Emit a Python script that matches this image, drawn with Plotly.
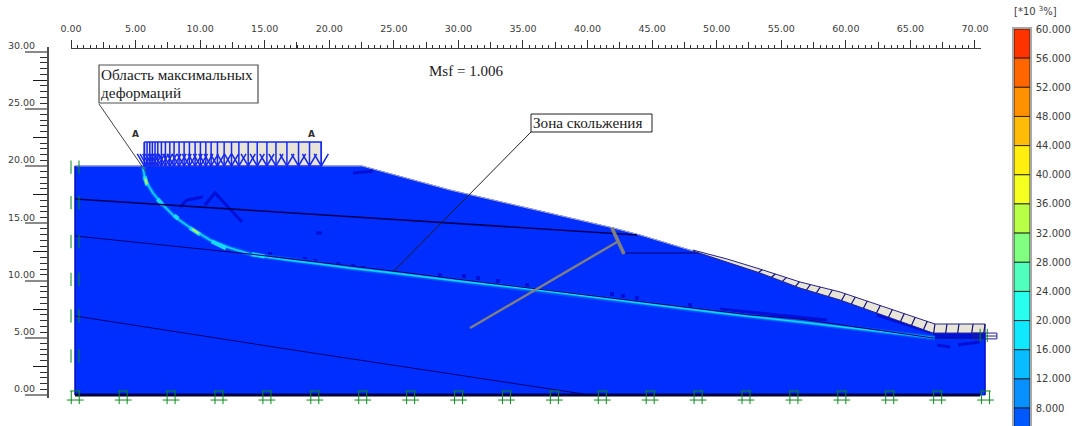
import plotly.graph_objects as go

# ---------- scale / tick values ----------
x_major = [0, 5, 10, 15, 20, 25, 30, 35, 40, 45, 50, 55, 60, 65, 70]
y_major = [0, 5, 10, 15, 20, 25, 30]
x_mid = [2.5 + 5 * i for i in range(14)]
y_mid = [2.5 + 5 * i for i in range(6)]
x_minor = [0.5 * i for i in range(141)]
y_minor = [0.5 * i for i in range(61)]
x_labels = ["%.2f" % v for v in x_major]
y_labels = ["%.2f" % v for v in y_major]

# ---------- slope geometry ----------
soil_x = [0.31, 0.31, 22.53, 29.35, 41.97, 44.06, 48.16, 53.35, 56.45, 59.55, 66.75, 70.78, 70.78]
soil_y = [0, 20.0, 20.0, 17.9, 14.59, 13.97, 12.58, 10.66, 9.34, 8.30, 5.41, 5.41, 0]
block_top_x = [48.16, 50.8, 53.35, 56.45, 59.55, 66.75, 66.9, 70.78, 70.78]
block_top_y = [12.66, 11.88, 11.0, 9.87, 9.0, 6.29, 6.2, 6.2, 5.41]
block_base_x = [66.75, 59.55, 56.45, 53.35, 48.16]
block_base_y = [5.41, 8.30, 9.34, 10.66, 12.58]
sep_slope_x = [53.35, 54.36, 55.21, 56.22, 57.07, 57.84, 58.77, 59.78, 60.55, 61.48, 62.49, 63.42, 64.35, 65.2, 66.13]
sep_bench_x = [66.9, 67.83, 68.76, 69.85, 70.78]
bench_top = 6.2
bench_base = 5.41

slip_x = [5.58, 5.73, 6.35, 7.12, 8.05, 9.37, 10.76, 12.31, 14.09, 16.73, 19.28, 21.6, 24.93, 29.35, 36.08, 40.96, 50.26, 56.45, 66.29, 66.9]
slip_y = [19.91, 18.78, 17.64, 16.59, 15.55, 14.5, 13.54, 12.84, 12.23, 11.79, 11.44, 11.09, 10.66, 10.04, 9.17, 8.47, 7.16, 6.38, 5.07, 4.98]

layer1_x = [0.31, 21.6, 29.35, 43.83]
layer1_y = [17.12, 15.55, 15.02, 13.97]
layer2_x = [0.31, 13.86, 24.93, 31.67, 52.58, 56.45, 66.75]
layer2_y = [13.89, 12.31, 10.83, 9.87, 6.99, 6.64, 4.98]
layer3_x = [0.31, 17.73, 40.19]
layer3_y = [6.9, 3.84, 0]
thin_x = [42.9, 48.71, None, 66.75, 70.78]
thin_y = [12.4, 12.4, None, 4.98, 4.98]
base_x = [0.31, 70.4]
base_y = [0, 0]

# ---------- strain patches ----------
patch_x = [10.38, 11.15, 13.24, None, 8.44, 8.98, 10.22, None, 18.97, 19.44, None, 21.84, 23.39, None,
           50.26, 58.54, None, 62.41, 66.52, None, 67.06, 68.07, None, 68.68, 70.39, None, 66.75, 70.78]
patch_y = [16.59, 17.64, 15.11, None, 16.42, 17.03, 17.29, None, 14.15, 14.15, None, 19.39, 19.56, None,
           7.51, 6.55, None, 6.99, 5.5, None, 4.37, 4.19, None, 4.37, 4.63, None, 5.2, 5.2]
bump_x = [15.41, 18.12, 18.89, 20.68, 21.84, 22.61, 28.57, 30.43, 31.52, 33.06, 35.31, 41.89, 42.74, 43.83, 47.93]
bump_y = [12.31, 11.88, 11.7, 11.44, 11.27, 11.09, 10.48, 10.39, 10.22, 9.96, 9.61, 8.82, 8.65, 8.47, 7.86]
hot_x = [5.7, 5.9, None, 6.7, 7.1, None, 8.0, 8.3, None, 9.2, 10.0, None, 10.9, 12.0, None, 14.0, 15.0]
hot_y = [19.1, 18.3, None, 17.1, 16.6, None, 15.7, 15.4, None, 14.6, 14.0, None, 13.4, 12.8, None, 12.3, 12.1]
yellow_x = [5.75, 5.88, None, 9.4, 9.9]
yellow_y = [18.9, 18.4, None, 14.5, 14.1]

# ---------- load ----------
load_x = [5.68, 5.89, 6.10, 6.30, 6.51, 6.72, 7.00, 7.31, 7.65, 7.98, 8.37, 8.76, 9.17, 9.61, 10.02,
          10.44, 10.85, 11.34, 11.86, 12.43, 13.0, 13.72, 14.42, 15.17, 15.87, 16.72, 17.62, 18.47, 19.38]
load_top = 22.1
load_base = 20.0
head_top = 21.05
head_half = 0.55

# ---------- supports ----------
pin_x = [0.33, 4.04, 7.75, 11.46, 15.17, 18.88, 22.59, 26.3, 30.01, 33.72, 37.43, 41.14, 44.85, 48.56,
         52.27, 55.98, 59.69, 63.4, 67.11, 70.82]
left_pin_y = [19.9, 16.8, 13.4, 10.1, 6.9, 3.4]
right_pin_y = [5.2]

# ---------- callouts ----------
grey_long_x = [30.9, 42.28]
grey_long_y = [5.85, 13.36]
grey_short_x = [41.89, 42.82]
grey_short_y = [14.59, 12.31]
lead1_x = [2.17, 5.81]
lead1_y = [25.41, 19.48]
lead2_x = [35.62, 24.93]
lead2_y = [22.97, 10.74]
anchor_x = [69.85, 71.7, 71.7, 69.85, 69.85, None, 69.85, 71.7]
anchor_y = [5.41, 5.41, 4.9, 4.9, 5.41, None, 5.15, 5.15]

# ---------- colour scale ----------
band_low = [56, 52, 48, 44, 40, 36, 32, 28, 24, 20, 16, 12, 8, 4]
band_size = [4] * 14
band_colors = ["#FF3300", "#FF6600", "#FF9000", "#FFBB08", "#FFEE10", "#F5FF20", "#B8FF48",
               "#80FF80", "#50FFBB", "#28FFEE", "#10E8FF", "#08BCFF", "#0890FF", "#0058FF"]
cb_ticks = [60, 56, 52, 48, 44, 40, 36, 32, 28, 24, 20, 16, 12, 8]
cb_labels = ["%.3f" % v for v in cb_ticks]

SOIL = "#002EFF"
DARK = "#0010D8"
BEIGE = "#E8E4D8"
LOAD = "#1428F0"
GREEN = "#0A8A1E"
TXT = "#3C3C3C"
FONT = "DejaVu Sans"
SERIF = "Liberation Serif"


def line(x, y, color, width, xa="x", ya="y"):
    return go.Scatter(x=x, y=y, mode="lines", xaxis=xa, yaxis=ya,
                      line=dict(color=color, width=width, shape="linear"),
                      hoverinfo="skip", showlegend=False, connectgaps=False)


fig = go.Figure()

# soil body
fig.add_trace(go.Scatter(x=soil_x + soil_x[:1], y=soil_y + soil_y[:1], mode="lines", fill="toself",
                         fillcolor=SOIL, line=dict(color=SOIL, width=1),
                         hoverinfo="skip", showlegend=False))
fig.add_trace(line(soil_x[1:7], soil_y[1:7], "#A8A8C8", 1))
fig.add_trace(line(soil_x[:2], soil_y[:2], "#000090", 1))
fig.add_trace(line(soil_x[-2:], soil_y[-2:], "#0000B0", 1))
# strain patches
fig.add_trace(line(patch_x, patch_y, DARK, 3.2))
fig.add_trace(go.Scatter(x=bump_x, y=bump_y, mode="markers", hoverinfo="skip", showlegend=False,
                         marker=dict(symbol="square", size=4, color=DARK)))
# slip band
fig.add_trace(line(slip_x, slip_y, "#0A50F0", 5))
fig.add_trace(line(slip_x, slip_y, "#0C9CFF", 2.6))
fig.add_trace(line(hot_x, hot_y, "#18D8FF", 4))
fig.add_trace(line(slip_x, slip_y, "#10E4FF", 1))
fig.add_trace(line(yellow_x, yellow_y, "#C8F040", 2))

# soil layers
fig.add_trace(line(layer1_x, layer1_y, "#000058", 1.6))
fig.add_trace(line(layer2_x, layer2_y, "#000070", 1))
fig.add_trace(line(layer3_x, layer3_y, "#000070", 1))
fig.add_trace(line(thin_x, thin_y, "#000070", 1))
fig.add_trace(line(base_x, base_y, "#000040", 3))

# slope facing blocks
fig.add_trace(go.Scatter(x=block_top_x + block_base_x, y=block_top_y + block_base_y, mode="lines", fill="toself",
                         fillcolor=BEIGE, line=dict(color="#22228C", width=1),
                         hoverinfo="skip", showlegend=False))
sep_x, sep_y = [], []
top_pts = list(zip(block_top_x[:6], block_top_y[:6]))
base_pts = sorted(zip(block_base_x, block_base_y))


def interp(pts, x):
    for (x0, y0), (x1, y1) in zip(pts[:-1], pts[1:]):
        if x0 <= x <= x1:
            return y0 + (y1 - y0) * (x - x0) / (x1 - x0)
    return pts[-1][1]


for sx in sep_slope_x:
    sep_x += [sx + 0.18, sx - 0.12, None]
    sep_y += [interp(top_pts, sx + 0.18), interp(base_pts, sx - 0.12), None]
for sx in sep_bench_x:
    sep_x += [sx, sx - 0.1, None]
    sep_y += [bench_top, bench_base, None]
fig.add_trace(line(sep_x, sep_y, "#101070", 1.2))
fig.add_trace(line(anchor_x, anchor_y, "#20209C", 1))

# surcharge load
fig.add_trace(go.Scatter(x=[load_x[0], load_x[-1], load_x[-1], load_x[0], load_x[0]],
                         y=[load_top, load_top, load_base, load_base, load_top],
                         mode="lines", fill="toself", fillcolor=BEIGE,
                         line=dict(color=LOAD, width=1.5), hoverinfo="skip", showlegend=False))
lx, ly = [], []
for v in load_x:
    lx += [v, v, None, v - head_half, v, v + head_half, None]
    ly += [load_top, load_base, None, head_top, load_base, head_top, None]
fig.add_trace(line(lx, ly, LOAD, 1.5))

# supports
px, py = [], []
for v in pin_x:
    for d in (-0.31, 0.31):
        px += [v + d, v + d, None]
        py += [0.35, -0.8, None]
    px += [v - 0.4, v + 0.4, None, v - 0.65, v + 0.65, None]
    py += [0.35, 0.35, None, -0.44, -0.44, None]
for c in left_pin_y:
    for d in (0.0, 0.62):
        px += [d, d, None]
        py += [c - 0.58, c + 0.58, None]
for c in right_pin_y:
    for d in (70.4, 70.95):
        px += [d, d, None]
        py += [c - 0.58, c + 0.58, None]
fig.add_trace(line(px, py, GREEN, 1))

# callout lines
fig.add_trace(line(grey_long_x, grey_long_y, "#808080", 2.4))
fig.add_trace(line(grey_short_x, grey_short_y, "#808080", 3.6))
fig.add_trace(line(lead1_x, lead1_y, "#404040", 1))
fig.add_trace(line(lead2_x, lead2_y, "#202020", 1))

# second subplot: axis rulers with the mid-length ticks, limited to the ruler extent
fig.add_trace(go.Scatter(x=[None], y=[None], xaxis="x2", yaxis="y2", hoverinfo="skip", showlegend=False))

# colour scale
fig.add_trace(go.Bar(x=[0] * len(band_low), y=band_size, base=band_low, xaxis="x3", yaxis="y3", width=1,
                     marker=dict(color=band_colors, line=dict(color="#101010", width=0.8)),
                     hoverinfo="skip", showlegend=False))

FULL_X = [-71 / 12.914, (1075 - 71) / 12.914]
FULL_Y = [-31 / 11.45, 395 / 11.45]
fig.update_layout(
    width=1075, height=426, margin=dict(l=0, r=0, t=0, b=0, pad=0, autoexpand=False),
    paper_bgcolor="white", plot_bgcolor="rgba(0,0,0,0)", font=dict(family=FONT, size=9.5, color=TXT),
    showlegend=False, barmode="overlay",
    xaxis=dict(domain=[0, 1], range=FULL_X, side="top", anchor="free", position=378 / 426, automargin=False,
               tickmode="array", tickvals=x_major, ticktext=x_labels, ticks="outside", ticklen=8,
               tickcolor="#303030", tickwidth=1, showgrid=False, zeroline=False, showline=False,
               ticklabelstandoff=4, tickfont=dict(size=9.5, color=TXT),
               minor=dict(tickmode="array", tickvals=x_minor, ticks="outside", ticklen=3,
                          tickcolor="#303030", tickwidth=1, showgrid=False)),
    yaxis=dict(domain=[0, 1], range=FULL_Y, anchor="free", position=48 / 1075, automargin=False,
               tickmode="array", tickvals=y_major, ticktext=y_labels, ticks="outside", ticklen=23,
               tickcolor="#8A8A8A", tickwidth=2, showgrid=False, zeroline=False, showline=False,
               ticklabelstandoff=-12, ticklabelshift=-6, tickfont=dict(size=9.5, color=TXT),
               minor=dict(tickmode="array", tickvals=y_minor, ticks="outside", ticklen=8,
                          tickcolor="#303030", tickwidth=1.2, showgrid=False)),
    xaxis2=dict(domain=[71 / 1075, 981 / 1075], range=[0, 70.47], side="top", anchor="free", position=378 / 426,
                automargin=False, tickmode="array", tickvals=x_mid, ticks="outside", ticklen=6, tickcolor="#303030",
                showticklabels=False, showgrid=False, zeroline=False, showline=True, linecolor="#404040", linewidth=1),
    yaxis2=dict(domain=[28 / 426, 379 / 426], range=[-0.26, 30.4], anchor="free", position=48 / 1075,
                automargin=False, tickmode="array", tickvals=y_mid, ticks="outside", ticklen=14, tickcolor="#181818",
                showticklabels=False, showgrid=False, zeroline=False, showline=True, linecolor="#505050", linewidth=1.5),
    xaxis3=dict(domain=[1014 / 1075, 1030 / 1075], range=[-0.5, 0.5], anchor="y3", showticklabels=False,
                ticks="", showgrid=False, zeroline=False, showline=True, linecolor="#A8A8A8", linewidth=1.5,
                mirror=True, automargin=False),
    yaxis3=dict(domain=[0, 397 / 426], range=[5.54, 60], anchor="x3", side="right", tickmode="array",
                tickvals=cb_ticks, ticktext=cb_labels, ticks="", showgrid=False, zeroline=False, automargin=False,
                showline=True, linecolor="#A8A8A8", linewidth=1.5, mirror=True,
                tickfont=dict(size=10, color=TXT), ticklabelstandoff=2),
    shapes=[
        dict(type="rect", xref="x", yref="y", x0=2.17, x1=14.48, y0=25.5, y1=28.82, layer="above",
             fillcolor="white", line=dict(color="#505050", width=1.2)),
        dict(type="rect", xref="x", yref="y", x0=35.62, x1=44.99, y0=22.97, y1=24.54, layer="above",
             fillcolor="white", line=dict(color="#202020", width=1)),
    ],
    annotations=[
        dict(text="Область максимальных", xref="x", yref="y", x=2.18, y=27.95,
             xanchor="left", yanchor="middle", align="left", showarrow=False,
             font=dict(family=SERIF, size=15.2, color="#202020")),
        dict(text="деформаций", xref="x", yref="y", x=2.18, y=26.46,
             xanchor="left", yanchor="middle", align="left", showarrow=False,
             font=dict(family=SERIF, size=15.2, color="#202020")),
        dict(text="Зона скольжения", xref="x", yref="y", x=35.65, y=23.76,
             xanchor="left", yanchor="middle", align="left", showarrow=False,
             font=dict(family=SERIF, size=15.2, color="#202020")),
        dict(text="Msf = 1.006", xref="x", yref="y", x=30.6, y=28.3, xanchor="center", yanchor="middle",
             showarrow=False, font=dict(family=SERIF, size=15, color="#202020")),
        dict(text="<b>A</b>", xref="x", yref="y", x=4.98, y=22.8, xanchor="center", yanchor="middle",
             showarrow=False, font=dict(size=9, color="#303030")),
        dict(text="<b>A</b>", xref="x", yref="y", x=18.66, y=22.8, xanchor="center", yanchor="middle",
             showarrow=False, font=dict(size=9, color="#303030")),
        dict(text="[*10 <sup>3</sup>%]", xref="paper", yref="paper", x=1035 / 1075, y=1 - 11 / 426,
             xanchor="center", yanchor="middle", showarrow=False, font=dict(size=10, color=TXT)),
    ],
)

fig.write_html("out.html", config={"displayModeBar": False},
               post_script="document.body.style.margin='0';document.body.style.overflow='hidden';")
